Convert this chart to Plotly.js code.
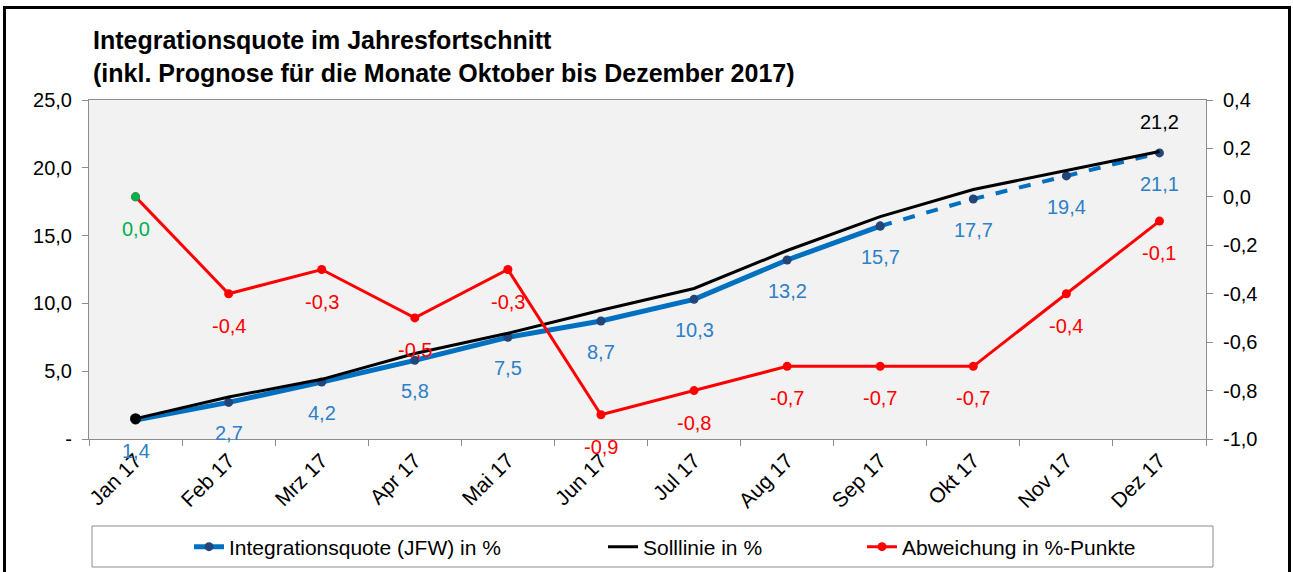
<!DOCTYPE html>
<html>
<head>
<meta charset="utf-8">
<script src="https://cdn.plot.ly/plotly-3.0.1.min.js"></script>
<style>
  html, body { margin: 0; padding: 0; background: #ffffff; }
  #wrap { position: relative; width: 1293px; height: 572px; overflow: hidden; }
  #chart { width: 1293px; height: 572px; }
  #frame { position: absolute; left: 3px; top: 6px; width: 1282px; height: 600px;
           border: 3px solid #000; pointer-events: none; }
</style>
</head>
<body>
<div id="wrap">
  <div id="chart"></div>
  <div id="frame"></div>
</div>
<script>
// ---- data ----
const months = ['Jan 17','Feb 17','Mrz 17','Apr 17','Mai 17','Jun 17','Jul 17','Aug 17','Sep 17','Okt 17','Nov 17','Dez 17'];
const quote = [1.4, 2.7, 4.2, 5.8, 7.5, 8.7, 10.3, 13.2, 15.7, 17.7, 19.4, 21.1];
const lastActualIndex = 8; // Sep 17: actual values up to here, forecast afterwards
const soll = [1.5, 3.1, 4.4, 6.3, 7.8, 9.5, 11.1, 13.9, 16.4, 18.4, 19.8, 21.2];
const abw = [0.0, -0.4, -0.3, -0.5, -0.3, -0.9, -0.8, -0.7, -0.7, -0.7, -0.4, -0.1];
const leftTickVals = [0, 5, 10, 15, 20, 25];
const leftTickText = ['-', '5,0', '10,0', '15,0', '20,0', '25,0'];
const rightTickVals = [-1.0, -0.8, -0.6, -0.4, -0.2, 0.0, 0.2, 0.4];
const rightTickText = ['-1,0', '-0,8', '-0,6', '-0,4', '-0,2', '0,0', '0,2', '0,4'];
const names = ['Integrationsquote (JFW) in %', 'Solllinie in %', 'Abweichung in %-Punkte'];

// ---- style ----
const FONT = 'Liberation Sans, Arial, sans-serif';
const BLUE = '#0070C0', NAVY = '#22467A', BLUE_TXT = '#2E7FC7';
const RED = '#FF0000', GREEN = '#00B050', AXIS = '#8C8C8C';
const fmt = v => v.toFixed(1).replace('.', ',').replace('\u2212', '-');

const actualX = months.slice(0, lastActualIndex + 1);
const actualY = quote.slice(0, lastActualIndex + 1);
const fcX = months.slice(lastActualIndex);
const fcY = quote.slice(lastActualIndex);

const traces = [
  { x: actualX, y: actualY, type: 'scatter', mode: 'lines+markers', name: names[0],
    line: { color: BLUE, width: 5 }, marker: { color: NAVY, size: 9 }, legend: 'legend' },
  { x: fcX, y: fcY, type: 'scatter', mode: 'lines+markers', showlegend: false,
    line: { color: BLUE, width: 4, dash: 'dash' }, marker: { color: NAVY, size: 9 } },
  { x: months, y: soll, type: 'scatter', mode: 'lines', name: names[1],
    line: { color: '#000000', width: 3 }, legend: 'legend2' },
  { x: [months[0]], y: [soll[0]], type: 'scatter', mode: 'markers', showlegend: false,
    marker: { color: '#000000', size: 11 } },
  { x: months, y: abw, type: 'scatter', mode: 'lines+markers', name: names[2], yaxis: 'y2',
    line: { color: RED, width: 3 }, marker: { color: RED, size: 9 }, legend: 'legend3' },
  { x: [months[0]], y: [abw[0]], type: 'scatter', mode: 'markers', showlegend: false, yaxis: 'y2',
    marker: { color: GREEN, size: 9 } }
];

const LBL = 20;
const annotations = [];
quote.forEach((v, i) => annotations.push({
  x: months[i], y: v, xref: 'x', yref: 'y', text: fmt(v), showarrow: false, yshift: -31,
  font: { family: FONT, size: LBL, color: BLUE_TXT }
}));
abw.forEach((v, i) => annotations.push({
  x: months[i], y: v, xref: 'x', yref: 'y2', text: fmt(v), showarrow: false, yshift: -32,
  font: { family: FONT, size: LBL, color: i === 0 ? GREEN : RED }
}));
const lastI = soll.length - 1;
annotations.push({
  x: months[lastI], y: soll[lastI], xref: 'x', yref: 'y', text: fmt(soll[lastI]), showarrow: false, yshift: 30,
  font: { family: FONT, size: LBL, color: '#000000' }
});

// plot area in px: x 89..1206, y 100..439
const PL = 89, PR = 1206, PT = 100, PB = 439;
const px2x = p => (p - PL) / (PR - PL);
const px2y = p => (PB - p) / (PB - PT);

const legendCommon = { orientation: 'h', yanchor: 'middle', xanchor: 'left', bgcolor: 'rgba(0,0,0,0)',
  borderwidth: 0, font: { family: FONT, size: 21, color: '#000000' }, y: px2y(547) };

const TICKF = { family: FONT, size: 20, color: '#000000' };

const layout = {
  width: 1293, height: 572,
  margin: { l: PL, r: 1293 - PR, t: PT, b: 572 - PB, autoexpand: false },
  paper_bgcolor: '#ffffff', plot_bgcolor: '#F2F2F2',
  font: { family: FONT, size: 19, color: '#000000' },
  title: {
    text: '<b>Integrationsquote im Jahresfortschnitt<br>(inkl. Prognose für die Monate Oktober bis Dezember 2017)</b>',
    xref: 'container', yref: 'container', x: 93 / 1293, xanchor: 'left', y: 1 - 49 / 572, yanchor: 'top',
    font: { family: FONT, size: 25, color: '#000000' }
  },
  showlegend: true,
  xaxis: {
    type: 'category', range: [-0.5, 11.5], showgrid: false, zeroline: false,
    showline: true, linecolor: AXIS, linewidth: 1, mirror: true,
    ticks: 'outside', tickson: 'boundaries', ticklen: 6, tickcolor: AXIS,
    tickangle: -45, tickfont: { family: FONT, size: 21, color: '#000000' }
  },
  yaxis: {
    range: [0, 25], tickvals: leftTickVals, ticktext: leftTickText, showgrid: false, zeroline: false,
    showline: true, linecolor: AXIS, linewidth: 1, ticks: 'outside', ticklen: 6, tickcolor: AXIS,
    ticklabelstandoff: 6, tickfont: TICKF
  },
  yaxis2: {
    overlaying: 'y', side: 'right', range: [-1.0, 0.4], tickvals: rightTickVals, ticktext: rightTickText,
    showgrid: false, zeroline: false, showline: true, linecolor: AXIS, linewidth: 1,
    ticks: 'outside', ticklen: 6, tickcolor: AXIS, ticklabelstandoff: 6, tickfont: TICKF
  },
  legend: Object.assign({}, legendCommon, { x: px2x(229 - 40) }),
  legend2: Object.assign({}, legendCommon, { x: px2x(643 - 40) }),
  legend3: Object.assign({}, legendCommon, { x: px2x(902 - 40) }),
  shapes: [{
    type: 'rect', xref: 'paper', yref: 'paper', layer: 'above',
    x0: px2x(92), x1: px2x(1213), y0: px2y(567), y1: px2y(526),
    line: { color: AXIS, width: 1 }, fillcolor: 'rgba(0,0,0,0)'
  }],
  annotations: annotations
};

Plotly.newPlot('chart', traces, layout, { displayModeBar: false, staticPlot: true });
</script>
</body>
</html>
